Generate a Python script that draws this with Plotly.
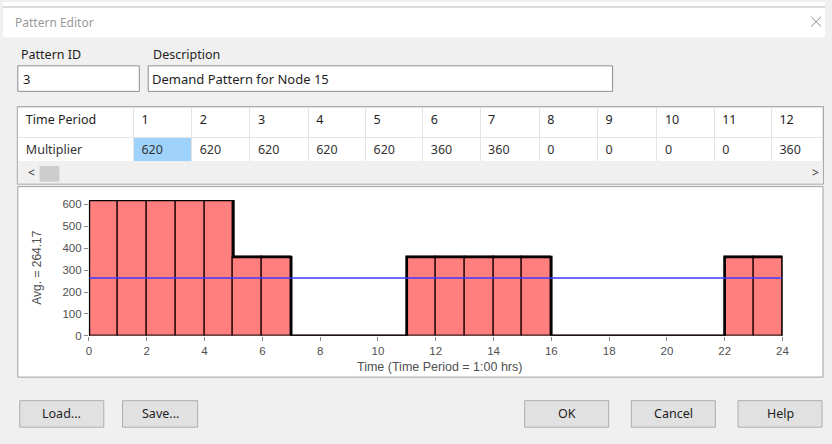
import plotly.graph_objects as go

W, H = 832, 444

# ---------------- data ----------------
hours = list(range(24))
multipliers = [620, 620, 620, 620, 620, 360, 360, 0, 0, 0, 0, 360,
               360, 360, 360, 360, 0, 0, 0, 0, 0, 0, 360, 360]
time_periods = [str(i) for i in range(1, 13)]
shown_multipliers = [str(v) for v in multipliers[:12]]
x_ticks = list(range(0, 25, 2))
y_ticks = list(range(0, 601, 100))
pattern_id = "3"
description = "Demand Pattern for Node 15"
button_labels = ["Load...", "Save...", "OK", "Cancel", "Help"]

avg = sum(multipliers) / len(multipliers)


def px(x):
    return x / W


def py(y):
    return 1 - y / H


DLG_FONT = "Noto Sans"
CHART_FONT = "Liberation Sans"

fig = go.Figure()

# ---------------- chart traces ----------------
fig.add_trace(go.Bar(
    x=[h + 0.5 for h in hours], y=multipliers, width=1,
    marker=dict(color="#ff7f7f", line=dict(color="#3a1414", width=1.5)),
    cliponaxis=False, hoverinfo="skip", showlegend=False,
))
step_x = [0] + list(range(25)) + [24]
step_y = [0] + multipliers + [multipliers[-1], 0]
fig.add_trace(go.Scatter(
    x=step_x, y=step_y, mode="lines", line=dict(color="black", width=2.5, shape="hv"),
    cliponaxis=False, hoverinfo="skip", showlegend=False,
))
fig.add_trace(go.Scatter(
    x=[0, 24], y=[avg, avg], mode="lines", line=dict(color="#3a3aff", width=1.5),
    cliponaxis=False, hoverinfo="skip", showlegend=False,
))

# ---------------- table ----------------
col_w = [117, 59, 59, 59, 58, 58, 58, 60, 59, 60, 58, 58, 52]
cell_fill = ["white", "#9fd3fb"] + ["white"] * 11
fig.add_trace(go.Table(
    domain=dict(x=[px(15), px(830)], y=[py(163), py(107)]),
    columnwidth=col_w,
    header=dict(values=["Time Period"] + time_periods, align="left", height=30,
                fill=dict(color="white"), line=dict(color="#e4e4e4", width=1),
                font=dict(family=DLG_FONT, size=12.5, color="#1e1e1e")),
    cells=dict(values=[["Multiplier"]] + [[v] for v in shown_multipliers], align="left",
               height=26, fill=dict(color=cell_fill), line=dict(color="#e4e4e4", width=1),
               font=dict(family=DLG_FONT, size=12.5, color="#333333")),
))

shapes = []
ann = []


def rect(x0, y0, x1, y1, fill, line="rgba(0,0,0,0)", lw=1, layer="below"):
    shapes.append(dict(type="rect", xref="paper", yref="paper", x0=px(x0), x1=px(x1),
                       y0=py(y1), y1=py(y0), fillcolor=fill,
                       line=dict(color=line, width=lw), layer=layer))


def seg(x0, y0, x1, y1, color, lw=1, layer="below"):
    shapes.append(dict(type="line", xref="paper", yref="paper", x0=px(x0), x1=px(x1),
                       y0=py(y0), y1=py(y1), line=dict(color=color, width=lw), layer=layer))


def text(x, y, s, size=12, color="#1e1e1e", xanchor="left", family=DLG_FONT, angle=0):
    ann.append(dict(xref="paper", yref="paper", x=px(x), y=py(y), text=s, showarrow=False,
                    xanchor=xanchor, yanchor="middle", textangle=angle,
                    font=dict(family=family, size=size, color=color)))


# title bar
rect(0, 0, 832, 36, "white")
seg(0, 5, 832, 5, "#cfcfcf", 1.5)
text(10, 21, "Pattern Editor", 12, "#9a9a9a")
seg(818, 15, 828, 25, "#8a8a8a", 1)
seg(828, 15, 818, 25, "#8a8a8a", 1)

# labels + text boxes
text(16, 53, "Pattern ID", 12.5)
text(150, 53, "Description", 12.5)
rect(15, 65, 138, 91, "white", "#8e8e8e", 1)
rect(147, 65, 617, 91, "white", "#8e8e8e", 1)
text(18, 78, pattern_id, 13)
text(149, 78, description, 13)

# table frame + scroll row
rect(15, 163, 830, 185, "#f0f0f0", layer="above")
text(23, 174, "<", 12, "#333333")
rect(37, 167, 57, 183, "#cdcdcd", layer="above")
text(817, 174, ">", 12, "#333333")
rect(14.5, 106.5, 830.5, 185.5, "rgba(0,0,0,0)", "#a9a9a9", 1, layer="above")

# chart box
rect(15, 188, 830, 382, "white", "#a0a0a0", 1)

# chart axis titles
text(35, 270, "Avg. = %.2f" % avg, 12, "#505050", "center", CHART_FONT, -90)
text(442, 372, "Time (Time Period = 1:00 hrs)", 12.5, "#505050", "center", CHART_FONT)

# buttons
btns = [(17, 102), (121, 197), (528, 613), (636, 721), (744, 829)]
for (bx0, bx1), lab in zip(btns, button_labels):
    rect(bx0, 406, bx1, 433, "#e1e1e1", "#adadad", 1)
    text((bx0 + bx1) / 2, 419.5, lab, 12.5, "#1e1e1e", "center")

fig.update_layout(
    width=W, height=H, margin=dict(l=0, r=0, t=0, b=0),
    paper_bgcolor="#f0f0f0", plot_bgcolor="rgba(0,0,0,0)",
    shapes=shapes, annotations=ann, showlegend=False,
    bargap=0,
    xaxis=dict(domain=[px(87), px(789)], range=[0, 24], tickvals=x_ticks,
               ticks="outside", ticklen=4, tickcolor="#8a8a8a", showgrid=False,
               zeroline=False, showline=False, fixedrange=True,
               tickfont=dict(family=CHART_FONT, size=11.5, color="#505050")),
    yaxis=dict(domain=[py(340), py(201.6)], range=[0, 620], tickvals=y_ticks,
               ticks="outside", ticklen=4, tickcolor="#8a8a8a", showgrid=False,
               zeroline=False, showline=False, fixedrange=True,
               tickfont=dict(family=CHART_FONT, size=11.5, color="#505050")),
)

fig.write_html(
    "out.html",
    config={"displayModeBar": False},
    post_script="document.body.style.margin='0';document.body.style.padding='0';"
                "document.body.style.overflow='hidden';",
)
